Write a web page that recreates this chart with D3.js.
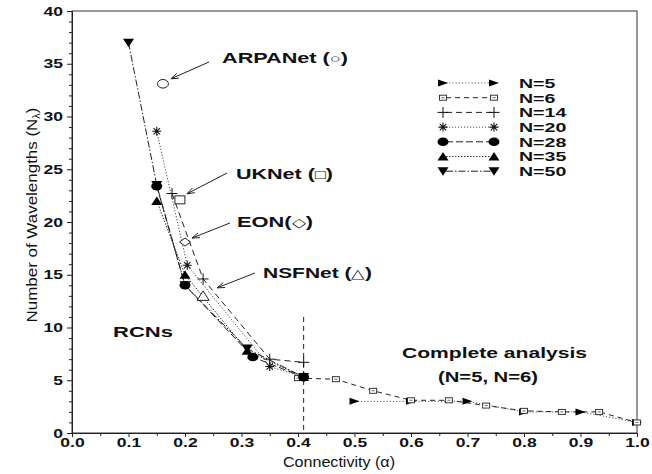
<!DOCTYPE html>
<html><head><meta charset="utf-8">
<script src="https://cdn.jsdelivr.net/npm/d3@7"></script>
<style>body{margin:0;background:#fff} svg{display:block}</style>
</head><body>
<svg id="chart" width="652" height="474"></svg>
<script>
// Number of wavelengths versus connectivity for several network sizes
const n5Alpha  = [0.5, 0.6, 0.7, 0.8, 0.9, 1.0];
const n5Wl     = [3.0, 3.0, 3.0, 2.0, 2.0, 1.0];
const n6Alpha  = [0.4, 0.467, 0.533, 0.6, 0.667, 0.733, 0.8, 0.867, 0.933, 1.0];
const n6Wl     = [5.2, 5.1, 4.0, 3.1, 3.1, 2.6, 2.1, 2.0, 2.0, 1.0];
const n14Alpha = [0.177, 0.232, 0.35, 0.41];
const n14Wl    = [22.7, 14.6, 7.0, 6.7];
const n20Alpha = [0.15, 0.204, 0.35, 0.41];
const n20Wl    = [28.6, 15.9, 6.3, 5.3];
const n28Alpha = [0.15, 0.2, 0.32, 0.41];
const n28Wl    = [23.4, 14.0, 7.2, 5.3];
const n35Alpha = [0.15, 0.2, 0.31, 0.41];
const n35Wl    = [22.0, 15.0, 7.8, 5.3];
const n50Alpha = [0.1, 0.15, 0.2, 0.31, 0.41];
const n50Wl    = [37.0, 23.5, 14.0, 8.0, 5.3];
const seriesNames = ["N=5", "N=6", "N=14", "N=20", "N=28", "N=35", "N=50"];

// Real networks
const netNames   = ["ARPANet", "UKNet", "EON", "NSFNet"];
const netSymbols = ["○", "□", "◇", "△"];
const netAlpha   = [0.161, 0.191, 0.2, 0.232];
const netWl      = [33.1, 22.1, 18.1, 13.0];

// Boundary between the RCN region and the complete analysis
const boundaryAlpha = 0.41;
const boundaryTop = 11;

const xTicks = [0.0, 0.1, 0.2, 0.3, 0.4, 0.5, 0.6, 0.7, 0.8, 0.9, 1.0];
const xMinor = [0.05, 0.15, 0.25, 0.35, 0.45, 0.55, 0.65, 0.75, 0.85, 0.95];
const yTicks = [0, 5, 10, 15, 20, 25, 30, 35, 40];
const yMinor = d3.range(0, 41).filter(v => v % 5 !== 0);

const svg = d3.select("#chart");
const x = d3.scaleLinear().domain([0, 1]).range([72, 637]);
const y = d3.scaleLinear().domain([0, 40]).range([433, 11]);

const FONT = "'Liberation Sans', Arial, Helvetica, sans-serif";

// frame
svg.append("rect")
  .attr("x", x(0)).attr("y", y(40))
  .attr("width", x(1) - x(0)).attr("height", y(0) - y(40))
  .attr("fill", "none").attr("stroke", "#333").attr("stroke-width", 1);

// axes
const gx = svg.append("g").attr("transform", `translate(0,${y(0)})`)
  .call(d3.axisBottom(x).tickValues(xTicks).tickSize(4).tickPadding(1)
    .tickFormat(d3.format(".1f")));
svg.append("g").attr("transform", `translate(0,${y(0)})`)
  .call(d3.axisBottom(x).tickValues(xMinor).tickSize(3).tickFormat(""))
  .select(".domain").remove();
const gy = svg.append("g").attr("transform", `translate(${x(0)},0)`)
  .call(d3.axisLeft(y).tickValues(yTicks).tickSize(5).tickPadding(4));
svg.append("g").attr("transform", `translate(${x(0)},0)`)
  .call(d3.axisLeft(y).tickValues(yMinor).tickSize(3).tickFormat(""))
  .select(".domain").remove();

svg.selectAll(".tick line").attr("stroke", "#222");
svg.selectAll(".domain").attr("stroke", "#222");
gx.selectAll("text").attr("font-family", FONT).attr("font-weight", "bold")
  .attr("font-size", 13).attr("fill", "#111")
  .attr("transform", "scale(1.35,1)");
gy.selectAll("text").attr("font-family", FONT).attr("font-weight", "bold")
  .attr("font-size", 13).attr("fill", "#111")
  .attr("x", -9 / 1.35)
  .attr("transform", "scale(1.35,1)");

// axis titles
svg.append("text")
  .attr("x", 283).attr("y", 467)
  .attr("font-family", FONT).attr("font-size", 14).attr("fill", "#111")
  .attr("textLength", 112).attr("lengthAdjust", "spacingAndGlyphs")
  .text("Connectivity (α)");

const yt = svg.append("text")
  .attr("transform", "translate(37,215) rotate(-90)")
  .attr("text-anchor", "middle")
  .attr("font-family", FONT).attr("font-size", 15.5).attr("fill", "#111")
  .attr("textLength", 215).attr("lengthAdjust", "spacingAndGlyphs");
yt.append("tspan").text("Number of Wavelengths (N");
yt.append("tspan").attr("font-size", 10).attr("dy", 3).text("λ");
yt.append("tspan").attr("dy", -3).text(")");

// marker shapes
function drawMarker(g, type, cx, cy) {
  switch (type) {
    case "N=5":
      g.append("path").attr("d", `M${cx-5},${cy-3.5}L${cx+5},${cy}L${cx-5},${cy+3.5}Z`)
        .attr("fill", "#000");
      break;
    case "N=6":
      g.append("rect").attr("x", cx - 3.5).attr("y", cy - 2.5).attr("width", 7).attr("height", 5)
        .attr("fill", "#fff").attr("stroke", "#222").attr("stroke-width", 0.9);
      g.append("line").attr("x1", cx - 1.5).attr("x2", cx + 1.5).attr("y1", cy).attr("y2", cy)
        .attr("stroke", "#444").attr("stroke-width", 0.8);
      break;
    case "N=14":
      g.append("path").attr("d", `M${cx-5.5},${cy}H${cx+5.5}M${cx},${cy-5.5}V${cy+5.5}`)
        .attr("stroke", "#111").attr("stroke-width", 1);
      break;
    case "N=20":
      g.append("path").attr("d",
        `M${cx-4.5},${cy}H${cx+4.5}M${cx},${cy-4.5}V${cy+4.5}M${cx-3.2},${cy-3.2}L${cx+3.2},${cy+3.2}M${cx-3.2},${cy+3.2}L${cx+3.2},${cy-3.2}`)
        .attr("stroke", "#111").attr("stroke-width", 1.1);
      break;
    case "N=28":
      g.append("ellipse").attr("cx", cx).attr("cy", cy).attr("rx", 5.5).attr("ry", 4.3)
        .attr("fill", "#000");
      break;
    case "N=35":
      g.append("path").attr("d", `M${cx-5.5},${cy+4}L${cx},${cy-4.5}L${cx+5.5},${cy+4}Z`)
        .attr("fill", "#000");
      break;
    case "N=50":
      g.append("path").attr("d", `M${cx-5.5},${cy-4}L${cx},${cy+4.5}L${cx+5.5},${cy-4}Z`)
        .attr("fill", "#000");
      break;
  }
}

const styles = {
  "N=5":  {dash: "1.2,2",   color: "#555", width: 1},
  "N=6":  {dash: "5,4",     color: "#222", width: 1},
  "N=14": {dash: "6,4",     color: "#222", width: 1},
  "N=20": {dash: "1.2,1.8", color: "#444", width: 1},
  "N=28": {dash: "7,3",     color: "#222", width: 1},
  "N=35": {dash: "1.5,1.5", color: "#333", width: 1},
  "N=50": {dash: "7,2,1.5,2", color: "#222", width: 1}
};

const series = [
  {name: "N=5",  a: n5Alpha,  w: n5Wl},
  {name: "N=6",  a: n6Alpha,  w: n6Wl},
  {name: "N=14", a: n14Alpha, w: n14Wl},
  {name: "N=20", a: n20Alpha, w: n20Wl},
  {name: "N=28", a: n28Alpha, w: n28Wl},
  {name: "N=35", a: n35Alpha, w: n35Wl},
  {name: "N=50", a: n50Alpha, w: n50Wl}
];

// boundary line
svg.append("line")
  .attr("x1", x(boundaryAlpha)).attr("x2", x(boundaryAlpha))
  .attr("y1", y(boundaryTop)).attr("y2", y(0))
  .attr("stroke", "#222").attr("stroke-width", 1).attr("stroke-dasharray", "5,4");

const line = d3.line().x(d => x(d[0])).y(d => y(d[1]));
const plot = svg.append("g");
series.forEach(s => {
  const pts = s.a.map((v, i) => [v, s.w[i]]);
  const st = styles[s.name];
  plot.append("path").attr("d", line(pts)).attr("fill", "none")
    .attr("stroke", st.color).attr("stroke-width", st.width)
    .attr("stroke-dasharray", st.dash);
});
series.forEach(s => {
  s.a.forEach((v, i) => drawMarker(plot, s.name, x(v), y(s.w[i])));
});

// legend
const legend = svg.append("g");
seriesNames.forEach((name, i) => {
  const ly = 83 + i * 14.7;
  const st = styles[name];
  legend.append("line").attr("x1", 446).attr("x2", 491).attr("y1", ly).attr("y2", ly)
    .attr("stroke", st.color).attr("stroke-width", st.width).attr("stroke-dasharray", st.dash);
  drawMarker(legend, name, 443, ly);
  drawMarker(legend, name, 494, ly);
  legend.append("text")
    .attr("transform", `translate(519,${ly + 4.8}) scale(1.45,1)`)
    .attr("font-family", FONT).attr("font-weight", "bold").attr("font-size", 13.5)
    .attr("fill", "#111").text(name);
});

// real network points and their labels
const netLayout = [
  {lx: 222, ly: 63,  len: 126, tail: [-13, -1], tip: [8, -5]},
  {lx: 236, ly: 179, len: 97,  tail: [-9, -6],  tip: [7, -6]},
  {lx: 237, ly: 227, len: 76,  tail: [-7, -4],  tip: [7, -4]},
  {lx: 263, ly: 278, len: 109, tail: [-8, -5],  tip: [14, -8]}
];
const ann = svg.append("g");
netNames.forEach((name, i) => {
  const cx = x(netAlpha[i]), cy = y(netWl[i]);
  if (i === 0) {
    ann.append("ellipse").attr("cx", cx).attr("cy", cy).attr("rx", 5.5).attr("ry", 4.3)
      .attr("fill", "#fff").attr("stroke", "#222").attr("stroke-width", 1);
  } else if (i === 1) {
    ann.append("rect").attr("x", cx - 5).attr("y", cy - 4).attr("width", 10).attr("height", 8)
      .attr("fill", "#fff").attr("stroke", "#222").attr("stroke-width", 1);
  } else if (i === 2) {
    ann.append("path").attr("d", `M${cx-5.5},${cy}L${cx},${cy-4}L${cx+5.5},${cy}L${cx},${cy+4}Z`)
      .attr("fill", "#fff").attr("stroke", "#222").attr("stroke-width", 1);
  } else {
    ann.append("path").attr("d", `M${cx-6},${cy+4.5}L${cx},${cy-5}L${cx+6},${cy+4.5}Z`)
      .attr("fill", "#fff").attr("stroke", "#222").attr("stroke-width", 1);
  }
  const L = netLayout[i];
  const t = ann.append("text").attr("x", L.lx).attr("y", L.ly)
    .attr("font-family", FONT).attr("font-weight", "bold").attr("font-size", 15.5)
    .attr("fill", "#111")
    .attr("textLength", L.len).attr("lengthAdjust", "spacingAndGlyphs");
  t.append("tspan").text(name + (i === 2 ? "(" : " ("));
  t.append("tspan").attr("font-size", 13).attr("font-weight", "normal").text(netSymbols[i]);
  t.append("tspan").text(")");
  // arrow
  const x0 = L.lx + L.tail[0], y0 = L.ly + L.tail[1];
  const x1 = cx + L.tip[0], y1 = cy + L.tip[1];
  ann.append("line").attr("x1", x0).attr("y1", y0).attr("x2", x1).attr("y2", y1)
    .attr("stroke", "#222").attr("stroke-width", 1);
  const ang = Math.atan2(y0 - y1, x0 - x1);
  const hl = 8, spread = 0.33;
  ann.append("path")
    .attr("d", `M${x1 + hl*Math.cos(ang+spread)},${y1 + hl*Math.sin(ang+spread)}L${x1},${y1}L${x1 + hl*Math.cos(ang-spread)},${y1 + hl*Math.sin(ang-spread)}`)
    .attr("fill", "none").attr("stroke", "#222").attr("stroke-width", 1);
});

// region labels
function label(txt, lx, ly, len, size) {
  svg.append("text").attr("x", lx).attr("y", ly)
    .attr("font-family", FONT).attr("font-weight", "bold").attr("font-size", size)
    .attr("fill", "#111")
    .attr("textLength", len).attr("lengthAdjust", "spacingAndGlyphs").text(txt);
}
label("RCNs", 113, 337, 60, 15);
label("Complete analysis", 402, 358, 185, 15);
label("(N=5, N=6)", 438, 382, 100, 14);
</script>
</body></html>
